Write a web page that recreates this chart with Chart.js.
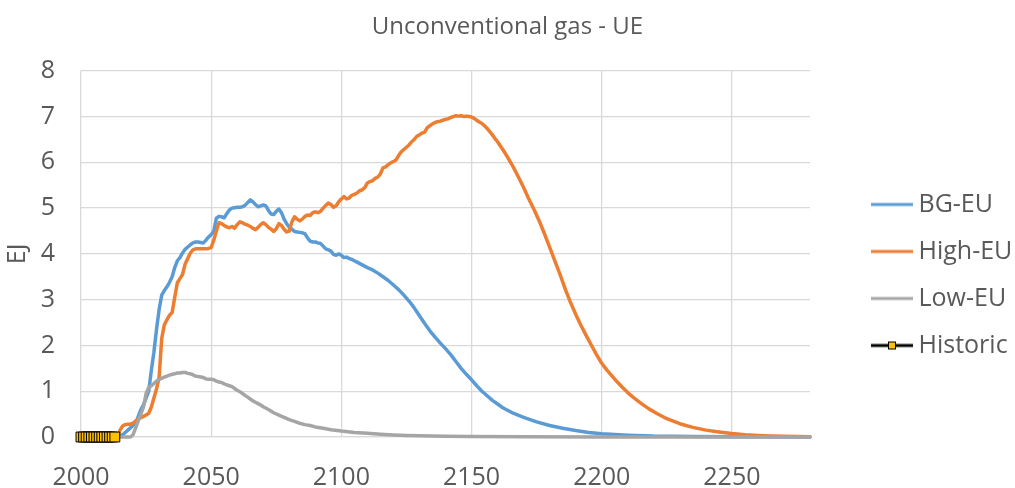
<!DOCTYPE html>
<html>
<head>
<meta charset="utf-8">
<script src="https://cdn.jsdelivr.net/npm/chart.js@4/dist/chart.umd.min.js"></script>
<style>
  html, body { margin: 0; padding: 0; background: #fff; }
  #wrap { width: 1015px; height: 488px; }
</style>
</head>
<body>
<div id="wrap"><canvas id="gasChart"></canvas></div>
<script>
// Historic
const histYears = [2000, 2001, 2002, 2003, 2004, 2005, 2006, 2007, 2008, 2009, 2010, 2011, 2012, 2013];
const histValues = [0, 0, 0, 0, 0, 0, 0, 0, 0, 0, 0, 0, 0, 0];

// BG-EU
const bgYears = [
  2013, 2016, 2018, 2020, 2021, 2022, 2023, 2024, 2025, 2026,
  2027, 2028, 2029, 2030, 2031, 2032, 2033, 2034, 2035, 2036,
  2037, 2038, 2039, 2040, 2041, 2042, 2043, 2044, 2045, 2046,
  2047, 2048, 2049, 2050, 2051, 2052, 2053, 2054, 2055, 2056,
  2057, 2058, 2059, 2060, 2061, 2062, 2063, 2064, 2065, 2066,
  2067, 2068, 2069, 2070, 2071, 2072, 2073, 2074, 2075, 2076,
  2077, 2078, 2079, 2080, 2081, 2082, 2083, 2084, 2085, 2086,
  2087, 2088, 2089, 2090, 2091, 2092, 2093, 2094, 2095, 2096,
  2097, 2098, 2099, 2100, 2101, 2102, 2103, 2104, 2105, 2106,
  2108, 2110, 2112, 2114, 2116, 2118, 2120, 2122, 2124, 2126,
  2128, 2130, 2132, 2134, 2136, 2138, 2140, 2142, 2144, 2146,
  2148, 2150, 2152, 2154, 2156, 2158, 2160, 2162, 2164, 2166,
  2170, 2175, 2180, 2185, 2190, 2195, 2200, 2210, 2220, 2235,
  2250, 2280
];
const bgValues = [
  0, 0.05, 0.15, 0.25, 0.3, 0.45, 0.6, 0.7, 0.85, 1.0,
  1.45, 1.85, 2.35, 2.78, 3.1, 3.2, 3.28, 3.38, 3.5, 3.7,
  3.85, 3.92, 4.02, 4.1, 4.15, 4.2, 4.24, 4.26, 4.26, 4.25,
  4.24, 4.3, 4.37, 4.42, 4.5, 4.78, 4.82, 4.81, 4.79, 4.88,
  4.96, 5.0, 5.01, 5.02, 5.02, 5.03, 5.06, 5.12, 5.18, 5.14,
  5.08, 5.03, 5.05, 5.07, 5.05, 4.95, 4.87, 4.86, 4.93, 4.98,
  4.9, 4.76, 4.66, 4.58, 4.54, 4.49, 4.48, 4.47, 4.46, 4.44,
  4.35, 4.28, 4.26, 4.26, 4.24, 4.23, 4.17, 4.11, 4.09, 4.06,
  3.99, 3.97, 4.0, 3.97, 3.92, 3.93, 3.9, 3.88, 3.85, 3.82,
  3.76, 3.7, 3.65, 3.58, 3.5, 3.42, 3.32, 3.22, 3.1, 2.97,
  2.82, 2.65, 2.48, 2.32, 2.18, 2.05, 1.93, 1.8, 1.65, 1.5,
  1.37, 1.25, 1.12, 1.0, 0.9, 0.8, 0.72, 0.64, 0.58, 0.52,
  0.43, 0.33, 0.25, 0.19, 0.14, 0.1, 0.07, 0.04, 0.02, 0.01,
  0.005, 0
];

// High-EU
const highYears = [
  2013, 2014, 2015, 2016, 2017, 2018, 2019, 2020, 2021, 2022,
  2023, 2024, 2025, 2026, 2027, 2028, 2029, 2030, 2031, 2032,
  2033, 2034, 2035, 2036, 2037, 2038, 2039, 2040, 2041, 2042,
  2043, 2044, 2045, 2046, 2047, 2048, 2049, 2050, 2051, 2052,
  2053, 2054, 2055, 2056, 2057, 2058, 2059, 2060, 2061, 2062,
  2063, 2064, 2065, 2066, 2067, 2068, 2069, 2070, 2071, 2072,
  2073, 2074, 2075, 2076, 2077, 2078, 2079, 2080, 2081, 2082,
  2083, 2084, 2085, 2086, 2087, 2088, 2089, 2090, 2091, 2092,
  2093, 2094, 2095, 2096, 2097, 2098, 2099, 2100, 2101, 2102,
  2103, 2104, 2105, 2106, 2107, 2108, 2109, 2110, 2111, 2112,
  2113, 2114, 2115, 2116, 2117, 2118, 2119, 2120, 2121, 2122,
  2123, 2124, 2125, 2126, 2127, 2128, 2129, 2130, 2131, 2132,
  2133, 2134, 2135, 2136, 2137, 2138, 2139, 2140, 2141, 2142,
  2143, 2144, 2145, 2146, 2147, 2148, 2149, 2150, 2151, 2152,
  2153, 2154, 2155, 2156, 2157, 2158, 2159, 2160, 2162, 2164,
  2166, 2168, 2170, 2172, 2174, 2176, 2178, 2180, 2182, 2184,
  2186, 2188, 2190, 2192, 2194, 2196, 2198, 2200, 2202, 2204,
  2206, 2208, 2210, 2212, 2215, 2218, 2221, 2225, 2230, 2235,
  2240, 2245, 2250, 2255, 2260, 2265, 2270, 2275, 2280
];
const highValues = [
  0, 0.02, 0.15, 0.24, 0.27, 0.28, 0.28, 0.3, 0.35, 0.4,
  0.42, 0.45, 0.48, 0.52, 0.65, 0.85, 1.05, 1.3, 2.15, 2.45,
  2.56, 2.66, 2.72, 3.05, 3.37, 3.46, 3.55, 3.78, 3.9, 4.02,
  4.09, 4.11, 4.11, 4.11, 4.11, 4.11, 4.12, 4.14, 4.3, 4.5,
  4.68, 4.66, 4.62, 4.59, 4.57, 4.6, 4.56, 4.64, 4.7, 4.68,
  4.65, 4.63, 4.6, 4.56, 4.53, 4.58, 4.64, 4.68, 4.64, 4.58,
  4.54, 4.49, 4.55, 4.66, 4.62, 4.54, 4.48, 4.5, 4.7, 4.81,
  4.76, 4.72, 4.76, 4.82, 4.85, 4.84, 4.9, 4.92, 4.9, 4.93,
  5.0, 5.06, 5.11, 5.08, 5.02, 5.05, 5.14, 5.2, 5.25, 5.2,
  5.22, 5.28, 5.3, 5.33, 5.38, 5.4, 5.45, 5.55, 5.58, 5.6,
  5.65, 5.68, 5.75, 5.88, 5.9, 5.95, 5.99, 6.02, 6.05, 6.15,
  6.23, 6.28, 6.33, 6.38, 6.45, 6.5, 6.57, 6.6, 6.64, 6.66,
  6.76, 6.8, 6.84, 6.87, 6.89, 6.9, 6.92, 6.94, 6.95, 6.98,
  7.0, 7.02, 7.01, 7.02, 7.0, 7.01, 7.0, 6.99, 6.96, 6.92,
  6.88, 6.85, 6.8, 6.74, 6.67, 6.6, 6.52, 6.45, 6.28, 6.1,
  5.9, 5.68, 5.45, 5.2, 4.97, 4.72, 4.44, 4.15, 3.85, 3.55,
  3.23, 2.94, 2.68, 2.44, 2.22, 2.01, 1.8, 1.61, 1.46, 1.33,
  1.2, 1.08, 0.97, 0.87, 0.74, 0.62, 0.52, 0.4, 0.29, 0.21,
  0.15, 0.11, 0.075, 0.05, 0.035, 0.022, 0.015, 0.01, 0.007
];

// Low-EU
const lowYears = [
  2013, 2019, 2020, 2021, 2022, 2023, 2024, 2025, 2026, 2027,
  2028, 2029, 2030, 2031, 2032, 2033, 2034, 2035, 2036, 2037,
  2038, 2039, 2040, 2041, 2042, 2043, 2044, 2045, 2046, 2047,
  2048, 2049, 2050, 2051, 2052, 2053, 2054, 2055, 2056, 2057,
  2058, 2059, 2060, 2061, 2062, 2063, 2064, 2065, 2066, 2067,
  2068, 2069, 2070, 2072, 2074, 2076, 2078, 2080, 2082, 2084,
  2086, 2088, 2090, 2093, 2096, 2100, 2105, 2110, 2115, 2120,
  2125, 2130, 2140, 2150, 2170, 2200, 2280
];
const lowValues = [
  0, 0, 0.05, 0.2, 0.35, 0.5, 0.65, 0.95, 1.08, 1.12,
  1.17, 1.22, 1.26, 1.28, 1.31, 1.33, 1.35, 1.37, 1.38, 1.4,
  1.4, 1.41, 1.41, 1.39, 1.38, 1.36, 1.33, 1.32, 1.31, 1.3,
  1.27, 1.26, 1.26, 1.25, 1.22, 1.2, 1.19, 1.16, 1.14, 1.12,
  1.1, 1.06, 1.02, 0.99, 0.95, 0.91, 0.87, 0.83, 0.79, 0.76,
  0.73, 0.7, 0.66, 0.6, 0.53, 0.48, 0.43, 0.38, 0.34, 0.3,
  0.27, 0.25, 0.22, 0.19, 0.16, 0.13, 0.1, 0.08, 0.06, 0.045,
  0.035, 0.025, 0.015, 0.01, 0.005, 0.002, 0
];

const xTicks = [2000, 2050, 2100, 2150, 2200, 2250];
const yTicks = [0, 1, 2, 3, 4, 5, 6, 7, 8];

const textColor = '#595959';
const gridColor = '#d9d9d9';
const fontFamily = '"Open Sans", sans-serif';

function points(xs, ys) {
  return xs.map((x, i) => ({ x: x, y: ys[i] }));
}

// small legend swatches (line, or line with square marker)
function legendIcon(color, marker) {
  const c = document.createElement('canvas');
  c.width = 42;
  c.height = 12;
  const g = c.getContext('2d');
  g.strokeStyle = color;
  g.lineWidth = 3;
  g.beginPath();
  g.moveTo(0, 6);
  g.lineTo(42, 6);
  g.stroke();
  if (marker) {
    g.fillStyle = '#ffc000';
    g.fillRect(17, 2, 8, 8);
    g.strokeStyle = '#000';
    g.lineWidth = 1;
    g.strokeRect(17.5, 2.5, 7, 7);
  }
  return c;
}

const icons = [
  legendIcon('#5b9bd5', false),
  legendIcon('#ed7d31', false),
  legendIcon('#a5a5a5', false),
  legendIcon('#000000', true)
];

new Chart(document.getElementById('gasChart'), {
  type: 'line',
  data: {
    datasets: [
      {
        label: 'BG-EU',
        data: points(bgYears, bgValues),
        borderColor: '#5b9bd5',
        backgroundColor: '#5b9bd5',
        borderWidth: 3.5,
        pointRadius: 0,
        clip: false,
        order: 3
      },
      {
        label: 'High-EU',
        data: points(highYears, highValues),
        borderColor: '#ed7d31',
        backgroundColor: '#ed7d31',
        borderWidth: 3.5,
        pointRadius: 0,
        clip: false,
        order: 2
      },
      {
        label: 'Low-EU',
        data: points(lowYears, lowValues),
        borderColor: '#a5a5a5',
        backgroundColor: '#a5a5a5',
        borderWidth: 3.5,
        pointRadius: 0,
        clip: false,
        order: 1
      },
      {
        label: 'Historic',
        data: points(histYears, histValues),
        borderColor: '#000000',
        backgroundColor: '#ffc000',
        borderWidth: 2.5,
        pointStyle: 'rect',
        pointRadius: 7,
        pointBorderColor: '#000000',
        pointBackgroundColor: '#ffc000',
        pointBorderWidth: 1,
        clip: false,
        order: 0
      }
    ]
  },
  options: {
    responsive: true,
    maintainAspectRatio: false,
    animation: false,
    layout: { padding: 0 },
    elements: { line: { tension: 0, borderJoinStyle: 'round', borderCapStyle: 'round' } },
    scales: {
      x: {
        type: 'linear',
        min: 2000,
        max: 2280,
        afterBuildTicks: (scale) => { scale.ticks = xTicks.map(v => ({ value: v })); },
        ticks: {
          color: textColor,
          font: { family: fontFamily, size: 25, lineHeight: 1 },
          padding: 28,
          maxRotation: 0,
          callback: (v) => String(v)
        },
        grid: { color: gridColor, lineWidth: 1.3, drawTicks: false },
        border: { color: gridColor, width: 1.3 },
        afterFit: (scale) => { scale.height = 51; }
      },
      y: {
        min: 0,
        max: 8,
        afterBuildTicks: (scale) => { scale.ticks = yTicks.map(v => ({ value: v })); },
        ticks: {
          color: textColor,
          font: { family: fontFamily, size: 25 },
          padding: 26
        },
        grid: { color: gridColor, lineWidth: 1.3, drawTicks: false },
        border: { display: false },
        title: {
          display: true,
          text: 'EJ',
          color: textColor,
          font: { family: fontFamily, size: 25 },
          padding: { top: 3, bottom: 0 }
        },
        afterFit: (scale) => { scale.width = 81; }
      },
      gap: {
        position: 'right',
        display: true,
        grid: { display: false },
        border: { display: false },
        ticks: { display: false },
        afterFit: (scale) => { scale.width = 46; }
      }
    },
    plugins: {
      title: {
        display: true,
        text: 'Unconventional gas - UE',
        color: textColor,
        font: { family: fontFamily, size: 24, weight: 'normal' },
        padding: { top: 13, bottom: 29 }
      },
      legend: {
        position: 'right',
        maxWidth: 159,
        title: {
          display: true,
          text: '',
          font: { size: 10, lineHeight: 1 },
          padding: { top: 52, bottom: 0 }
        },
        labels: {
          color: textColor,
          font: { family: fontFamily, size: 25, lineHeight: 1 },
          usePointStyle: true,
          pointStyleWidth: 28,
          padding: 22,
          sort: (a, b) => a.datasetIndex - b.datasetIndex,
          generateLabels: (chart) => {
            const items = Chart.defaults.plugins.legend.labels.generateLabels(chart);
            items.forEach((it) => { it.pointStyle = icons[it.datasetIndex]; });
            return items;
          }
        }
      },
      tooltip: { enabled: false }
    }
  }
});
</script>
</body>
</html>
